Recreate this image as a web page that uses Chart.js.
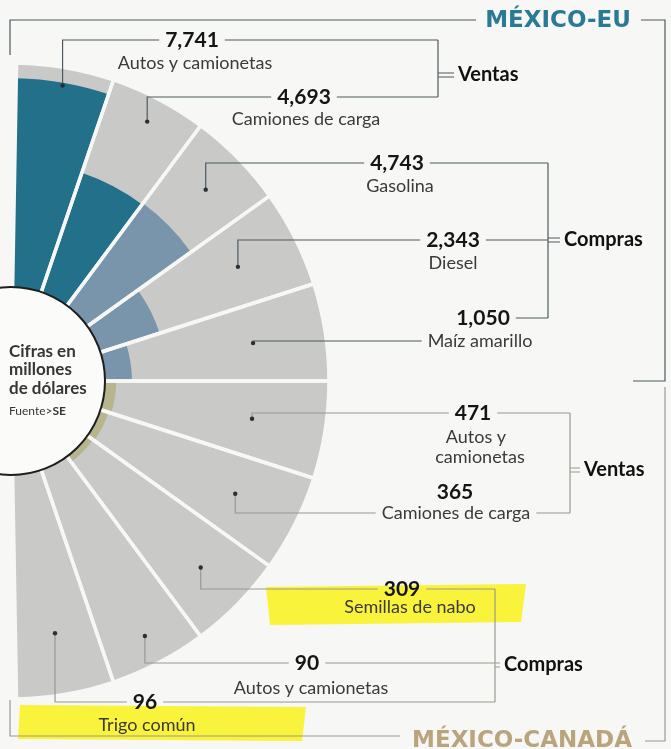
<!DOCTYPE html>
<html>
<head>
<meta charset="utf-8">
<script src="https://cdn.jsdelivr.net/npm/chart.js@4/dist/chart.umd.min.js"></script>
<style>
  html, body { margin: 0; padding: 0; background: #f7f7f5; overflow: hidden; }
  #wrap { position: relative; width: 671px; height: 749px; overflow: hidden; }
  #radial { position: absolute; left: -660px; top: 0; }
</style>
</head>
<body>
<div id="wrap"><canvas id="radial" width="1342" height="749"></canvas></div>
<script>
// datos (millones de dólares)
const categorias = ["Autos y camionetas", "Camiones de carga", "Gasolina", "Diesel", "Maíz amarillo",
  "Autos y camionetas", "Camiones de carga", "Semillas de nabo", "Autos y camionetas", "Trigo común"];
const valores = [7741, 4693, 4743, 2343, 1050, 471, 365, 309, 90, 96];
const etiquetas = ["7,741", "4,693", "4,743", "2,343", "1,050", "471", "365", "309", "90", "96"];
const grupos = ["Ventas", "Compras", "Ventas", "Compras"];
const regiones = ["MÉXICO-EU", "MÉXICO-CANADÁ"];
const escalaMin = -3400;
const escalaMax = 8300;

const colores = ["#23708a", "#23708a", "#7895ac", "#7895ac", "#7895ac",
  "#b7b48e", "#b7b48e", "#b7b48e", "#b7b48e", "#b7b48e"];
const fondo = "#f7f7f5";
const OFF = 660; // canvas shift so the center sits at the page edge

// where each label sits (page px)
const rotulos = [
  { r: 300, lineY: 40, vy: 40, ny: 63, cx: 192, bx: 438, ncx: 195 },
  { r: 293, lineY: 97, vy: 97, ny: 119, cx: 304, bx: 438, ncx: 306 },
  { r: 273, lineY: 163, vy: 163, ny: 186, cx: 397, bx: 548, ncx: 400 },
  { r: 254, lineY: 240, vy: 240, ny: 263, cx: 453, bx: 548, ncx: 453 },
  { r: 245, lineY: 341, vy: 318, ny: 341, cx: 483, bx: 548, ncx: 480, nameLine: true },
  { r: 244, lineY: 413, vy: 413, ny: 437, cx: 473, bx: 570, ncx: 476, dos: true },
  { r: 251, lineY: 513, vy: 492, ny: 513, cx: 455, bx: 570, ncx: 456, nameLine: true },
  { r: 266, lineY: 589, vy: 589, ny: 607, cx: 402, bx: 495, ncx: 410 },
  { r: 288, lineY: 663, vy: 663, ny: 688, cx: 307, bx: 495, ncx: 311 },
  { r: 256, lineY: 702, vy: 702, ny: 725, cx: 145, bx: 495, ncx: 147 }
];
const llaves = [
  { x: 438, y0: 40, y1: 97, ty: 75, tx: 458 },
  { x: 548, y0: 163, y1: 318, ty: 240, tx: 564 },
  { x: 570, y0: 413, y1: 513, ty: 470, tx: 584 },
  { x: 495, y0: 589, y1: 702, ty: 665, tx: 504 }
];

const anotaciones = {
  id: "anotaciones",
  afterDatasetsDraw(chart) {
    const ctx = chart.ctx;
    const meta = chart.getDatasetMeta(0);
    const cx = meta.data[0].x - OFF;
    const cy = meta.data[0].y;
    ctx.save();
    ctx.translate(OFF, 0);

    // center circle
    ctx.beginPath();
    ctx.arc(cx, cy, 94, 0, Math.PI * 2);
    ctx.fillStyle = "#fbfbfa";
    ctx.fill();
    ctx.lineWidth = 2;
    ctx.strokeStyle = "#1e1e1e";
    ctx.stroke();
    ctx.fillStyle = "#363636";
    ctx.textBaseline = "middle";
    ctx.textAlign = "left";
    ctx.font = "bold 17px Lato";
    ctx.fillText("Cifras en", 9, 352);
    ctx.fillText("millones", 9, 370);
    ctx.fillText("de dólares", 9, 389);
    ctx.font = "12px Lato";
    ctx.fillText("Fuente>", 9, 411);
    const wF = ctx.measureText("Fuente>").width;
    ctx.font = "bold 12px Lato";
    ctx.fillText("SE", 9 + wF, 411);

    // highlighter marks
    ctx.fillStyle = "rgba(248,242,40,0.9)";
    ctx.beginPath();
    ctx.moveTo(266, 587); ctx.lineTo(526, 584); ctx.lineTo(521, 622); ctx.lineTo(270, 625);
    ctx.closePath(); ctx.fill();
    ctx.beginPath();
    ctx.moveTo(20, 705); ctx.lineTo(306, 707); ctx.lineTo(302, 741); ctx.lineTo(18, 739);
    ctx.closePath(); ctx.fill();

    // frames
    ctx.lineWidth = 1.2;
    ctx.strokeStyle = "#4d5a60";
    ctx.beginPath();
    ctx.moveTo(10, 55); ctx.lineTo(10, 20); ctx.lineTo(476, 20);
    ctx.moveTo(641, 20); ctx.lineTo(665, 20); ctx.lineTo(665, 381); ctx.lineTo(633, 381);
    ctx.stroke();
    ctx.strokeStyle = "#9a9a90";
    ctx.beginPath();
    ctx.moveTo(10, 700); ctx.lineTo(10, 736); ctx.lineTo(400, 736);
    ctx.moveTo(645, 741); ctx.lineTo(665, 741); ctx.lineTo(665, 387);
    ctx.stroke();
    ctx.textAlign = "center";
    ctx.font = "bold 23px 'DejaVu Sans'";
    ctx.fillStyle = "#2b7a95";
    ctx.fillText(regiones[0], 558, 21);
    ctx.fillStyle = "#b9a47c";
    ctx.fillText(regiones[1], 522, 741);

    // connectors and labels
    meta.data.forEach((arc, i) => {
      const L = rotulos[i];
      const mid = (arc.startAngle + arc.endAngle) / 2;
      const dx = arc.x - OFF + L.r * Math.cos(mid);
      const dy = arc.y + L.r * Math.sin(mid);
      ctx.strokeStyle = i < 5 ? "#4d5a60" : "#9a9a90";
      ctx.lineWidth = 1.2;

      ctx.font = "bold 21px Lato";
      const wv = ctx.measureText(etiquetas[i]).width;
      ctx.font = "18px Lato";
      const wn = L.dos ? ctx.measureText("camionetas").width : ctx.measureText(categorias[i]).width;
      const leftEdge = L.nameLine ? L.ncx - wn / 2 : L.cx - wv / 2;
      const rightEdge = L.nameLine ? L.ncx + wn / 2 : L.cx + wv / 2;

      ctx.beginPath();
      ctx.moveTo(dx, dy);
      ctx.lineTo(dx, L.lineY);
      ctx.lineTo(leftEdge - 6, L.lineY);
      // on to the bracket
      const bY = i === 4 ? L.vy : L.lineY;
      const bStart = i === 4 ? L.cx + wv / 2 : rightEdge;
      ctx.moveTo(bStart + 6, bY);
      ctx.lineTo(L.bx, bY);
      ctx.stroke();

      ctx.fillStyle = "#2a2f33";
      ctx.beginPath();
      ctx.arc(dx, dy, 2.2, 0, Math.PI * 2);
      ctx.fill();

      ctx.fillStyle = "#151515";
      ctx.font = "bold 21px Lato";
      ctx.fillText(etiquetas[i], L.cx, L.vy);
      ctx.fillStyle = "#3a3a3a";
      ctx.font = "18px Lato";
      if (L.dos) {
        ctx.fillText("Autos y", L.ncx, L.ny);
        ctx.fillText("camionetas", L.ncx + 4, L.ny + 20);
      } else {
        ctx.fillText(categorias[i], L.ncx, L.ny);
      }
    });

    // brackets
    llaves.forEach((b, k) => {
      ctx.strokeStyle = k < 2 ? "#4d5a60" : "#9a9a90";
      ctx.beginPath();
      ctx.moveTo(b.x, b.y0); ctx.lineTo(b.x, b.y1);
      ctx.moveTo(b.x, b.ty - 2); ctx.lineTo(b.tx - 4, b.ty - 2);
      ctx.moveTo(b.x, b.ty + 2); ctx.lineTo(b.tx - 4, b.ty + 2);
      ctx.stroke();
      ctx.fillStyle = "#111";
      ctx.font = "bold 20px Lato";
      ctx.textAlign = "left";
      ctx.fillText(grupos[k], b.tx, b.ty);
      ctx.textAlign = "center";
    });
    ctx.restore();
  }
};

new Chart(document.getElementById("radial"), {
  type: "polarArea",
  data: {
    labels: categorias,
    datasets: [
      {
        label: "divisiones",
        data: valores.map(() => escalaMax),
        backgroundColor: "rgba(0,0,0,0)",
        borderColor: fondo,
        borderWidth: 3.5,
        angle: 17.8
      },
      {
        label: "Valores",
        data: valores,
        backgroundColor: colores,
        borderWidth: 0,
        angle: 17.8
      },
      {
        label: "fondo",
        data: valores.map(() => escalaMax),
        backgroundColor: "#c9c9c7",
        borderWidth: 0,
        angle: 17.8
      }
    ]
  },
  options: {
    responsive: false,
    animation: false,
    startAngle: 1,
    layout: { padding: { top: 63, bottom: 50, left: 0, right: 0 } },
    plugins: { legend: { display: false }, tooltip: { enabled: false } },
    scales: {
      r: {
        display: false,
        min: escalaMin,
        max: escalaMax,
        startAngle: 1,
        ticks: { display: false }
      }
    }
  },
  plugins: [anotaciones]
});
</script>
</body>
</html>
